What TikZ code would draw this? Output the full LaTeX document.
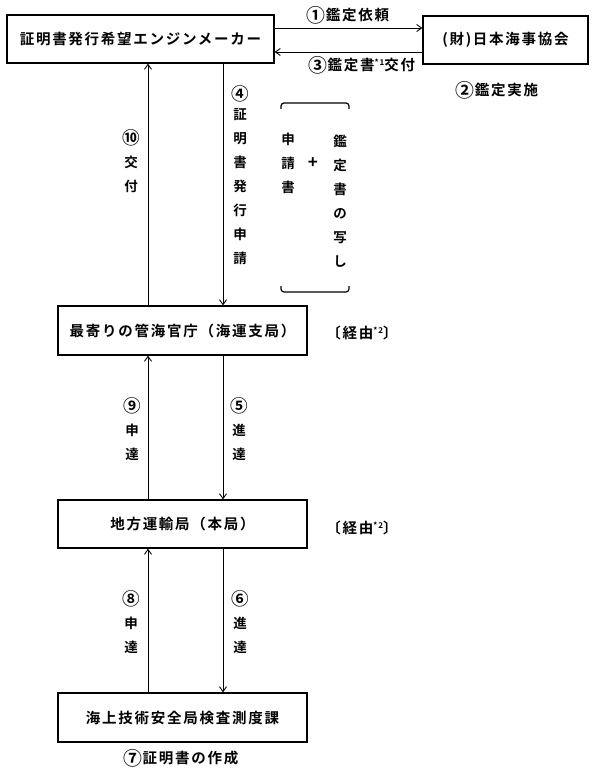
\documentclass[tikz,border=0pt]{standalone}
\usepackage{fontspec}
\newfontfamily\jp{Noto Sans CJK JP Bold}[LetterSpace=12]
\newfontfamily\jpv{Noto Sans CJK JP Bold}
\usetikzlibrary{arrows.meta}
\newcommand\supmk[1]{\raisebox{5pt}{\fontsize{8}{8}\selectfont #1}}
\newcommand\cnum[1]{\raisebox{-0.12em}{\scalebox{1.3}{#1}}}
\begin{document}
\begin{tikzpicture}[x=1pt,y=-1pt,
  box/.style={draw,line width=1.2pt,inner sep=0pt,font=\jp\fontsize{14.5}{16}\selectfont},
  lab/.style={inner sep=0pt,font=\jp\fontsize{14.5}{16}\selectfont},
  vlab/.style={inner sep=0pt,align=center,font=\jpv\fontsize{13.5}{24}\selectfont},
  arr/.style={line width=0.9pt,-{Straight Barb[length=5pt,width=7pt]}},
  brk/.style={line width=1.2pt,rounded corners=3pt}]
\useasboundingbox (0,0) rectangle (600,781);
% boxes
\node[box,minimum width=267pt,minimum height=48pt] (maker) at (140.5,39) {証明書発行希望エンジンメーカー};
\node[box,minimum width=165pt,minimum height=48pt] (kyokai) at (505.5,40) {(財)日本海事協会};
\node[box,minimum width=249pt,minimum height=49pt] (shikyoku) at (182.5,330.5) {最寄りの管海官庁（海運支局）};
\node[box,minimum width=249pt,minimum height=48pt] (honkyoku) at (182.5,524) {地方運輸局（本局）};
\node[box,minimum width=249pt,minimum height=49pt] (kensa) at (182.5,717.5) {海上技術安全局検査測度課};
% labels
\node[lab] (l1) at (348,15) {\cnum{①}鑑定依頼};
\node[lab] (l3) at (362,65) {\cnum{③}鑑定書\supmk{*1}交付};
\node[lab] (l2) at (497,90) {\cnum{②}鑑定実施};
\node[lab] (l7) at (181,758) {\cnum{⑦}証明書の作成};
\node[lab] (k1) at (362,333) {〔経由\supmk{*2}〕};
\node[lab] (k2) at (362,528) {〔経由\supmk{*2}〕};
% helper coordinates
\coordinate (xL) at (148,0);
\coordinate (xR) at (223,0);
\coordinate (yA) at (0,28);
\coordinate (yB) at (0,52);
% arrows
\draw[arr] (maker.east |- yA) -- (kyokai.west |- yA);
\draw[arr] (kyokai.west |- yB) -- (maker.east |- yB);
\draw[arr] (shikyoku.north -| xL) -- (maker.south -| xL);
\draw[arr] (maker.south -| xR) -- (shikyoku.north -| xR);
\draw[arr] (honkyoku.north -| xL) -- (shikyoku.south -| xL);
\draw[arr] (shikyoku.south -| xR) -- (honkyoku.north -| xR);
\draw[arr] (kensa.north -| xL) -- (honkyoku.south -| xL);
\draw[arr] (honkyoku.south -| xR) -- (kensa.north -| xR);
% vertical labels
\node[vlab] (v10) at (131,161) {\cnum{⑩}\\交\\付};
\node[vlab] (v4) at (240,175) {\cnum{④}\\[-4pt]証\\明\\書\\発\\行\\申\\請};
\node[vlab] (v9) at (132,429) {\cnum{⑨}\\申\\達};
\node[vlab] (v5) at (239,429) {\cnum{⑤}\\進\\達};
\node[vlab] (v8) at (131,622) {\cnum{⑧}\\申\\達};
\node[vlab] (v6) at (240,622) {\cnum{⑥}\\進\\達};
\node[vlab] (va) at (288,163) {申\\請\\書};
\node[vlab,font=\jpv\fontsize{17}{20}\selectfont] (plus) at (313,163) {+};
\node[vlab] (vb) at (340,201) {鑑\\定\\書\\の\\写\\し};
% bracket
\draw[brk] (281,109) -- (281,103) -- (349,103) -- (349,109);
\draw[brk] (281,286) -- (281,292) -- (349,292) -- (349,286);
\end{tikzpicture}
\end{document}
